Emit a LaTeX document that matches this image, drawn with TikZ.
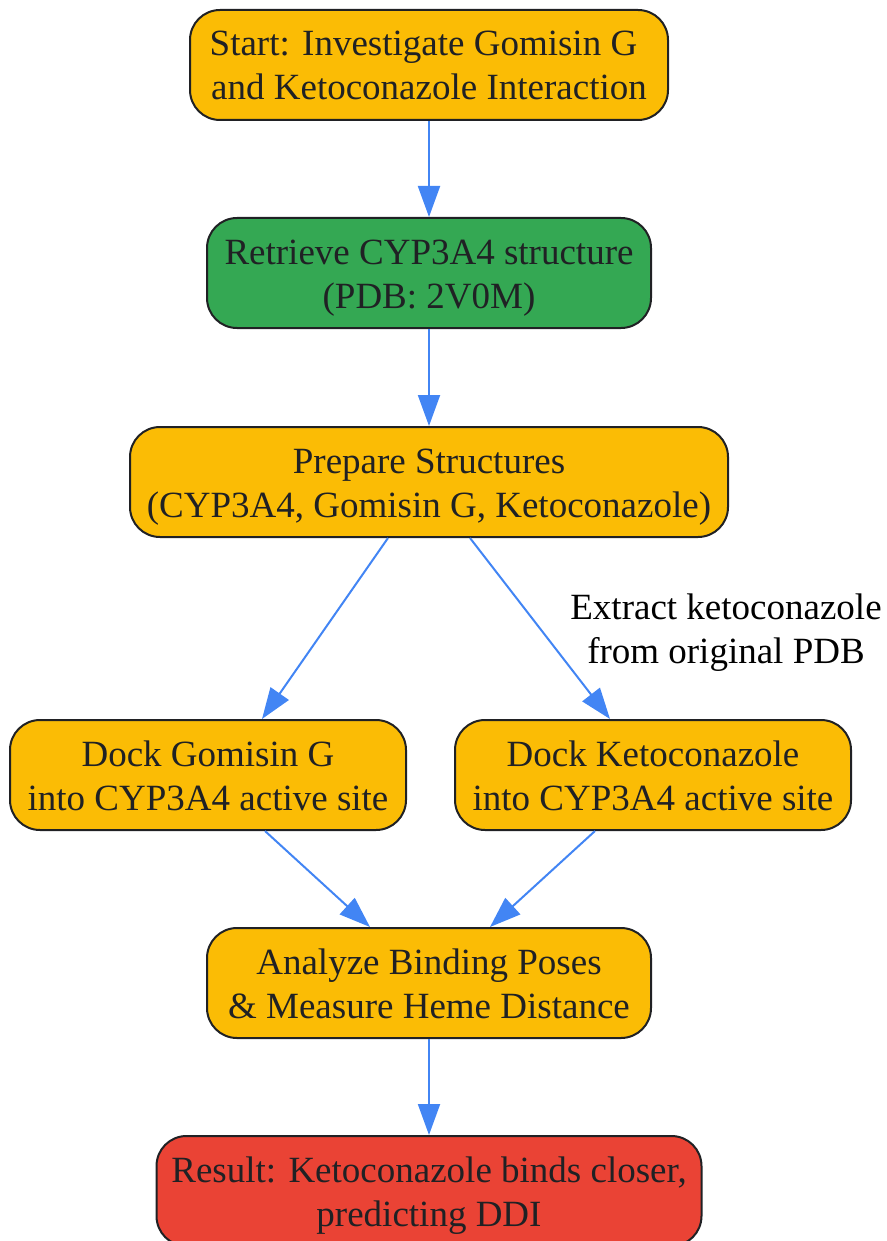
\documentclass[tikz,border=0pt]{standalone}
\usepackage{fontspec}
\setmainfont{Liberation Serif}
\usetikzlibrary{arrows.meta}
\definecolor{boxyellow}{HTML}{FBBC05}
\definecolor{boxgreen}{HTML}{34A853}
\definecolor{boxred}{HTML}{EA4335}
\definecolor{edgeblue}{HTML}{4285F4}
\definecolor{inkgray}{HTML}{202124}
\begin{document}
\begin{tikzpicture}[x=1pt,y=-1pt]
	% Styles for boxes and arrows
	\tikzset{flowbox/.style={draw=inkgray, line width=2pt, rounded corners=30pt, align=center,
			text=inkgray, minimum height=110pt, inner sep=0pt, text height=78pt, text depth=8pt,
			font=\fontsize{37}{44}\selectfont}}
	\tikzset{flowarrow/.style={edgeblue, line width=2pt, -{Triangle[length=31pt,width=22pt]}}}
	\useasboundingbox (0,0) rectangle (886,1241);
	
	% Draw the nodes
	\node[flowbox, fill=boxyellow, minimum width=478pt] (start) at (429,65) {Start: Investigate Gomisin G\kern0.3em\\and Ketoconazole Interaction};
	\node[flowbox, fill=boxgreen, minimum width=444pt] (retrieve) at (429,273) {Retrieve CYP3A4 structure\\(PDB: 2V0M)};
	\node[flowbox, fill=boxyellow, minimum width=598pt] (prepare) at (429,482) {Prepare Structures\\(CYP3A4, Gomisin G, Ketoconazole)};
	\node[flowbox, fill=boxyellow, minimum width=396pt] (dockg) at (208,775) {Dock Gomisin G\\into CYP3A4 active site};
	\node[flowbox, fill=boxyellow, minimum width=396pt] (dockk) at (653,775) {Dock Ketoconazole\\into CYP3A4 active site};
	\node[flowbox, fill=boxyellow, minimum width=444pt] (analyze) at (429,983) {Analyze Binding Poses\\\& Measure Heme Distance};
	\node[flowbox, fill=boxred, minimum width=545pt] (result) at (429,1191) {Result: Ketoconazole binds closer,\\predicting DDI};
	
	\node[align=center, inner sep=0pt, font=\fontsize{37}{44}\selectfont] (extractlbl) at (726,633) {Extract ketoconazole\\from original PDB};
	
	% Draw the arrows
	\draw[flowarrow] (start) -- (retrieve);
	\draw[flowarrow] (retrieve) -- (prepare);
	\draw[flowarrow] ([xshift=-41pt]prepare.south) -- ([xshift=54pt]dockg.north);
	\draw[flowarrow] ([xshift=41pt]prepare.south) -- ([xshift=-43pt]dockk.north);
	\draw[flowarrow] ([xshift=57pt]dockg.south) -- ([xshift=-59pt]analyze.north);
	\draw[flowarrow] ([xshift=-58pt]dockk.south) -- ([xshift=61pt]analyze.north);
	\draw[flowarrow] (analyze) -- (result);
	
\end{tikzpicture}
\end{document}
